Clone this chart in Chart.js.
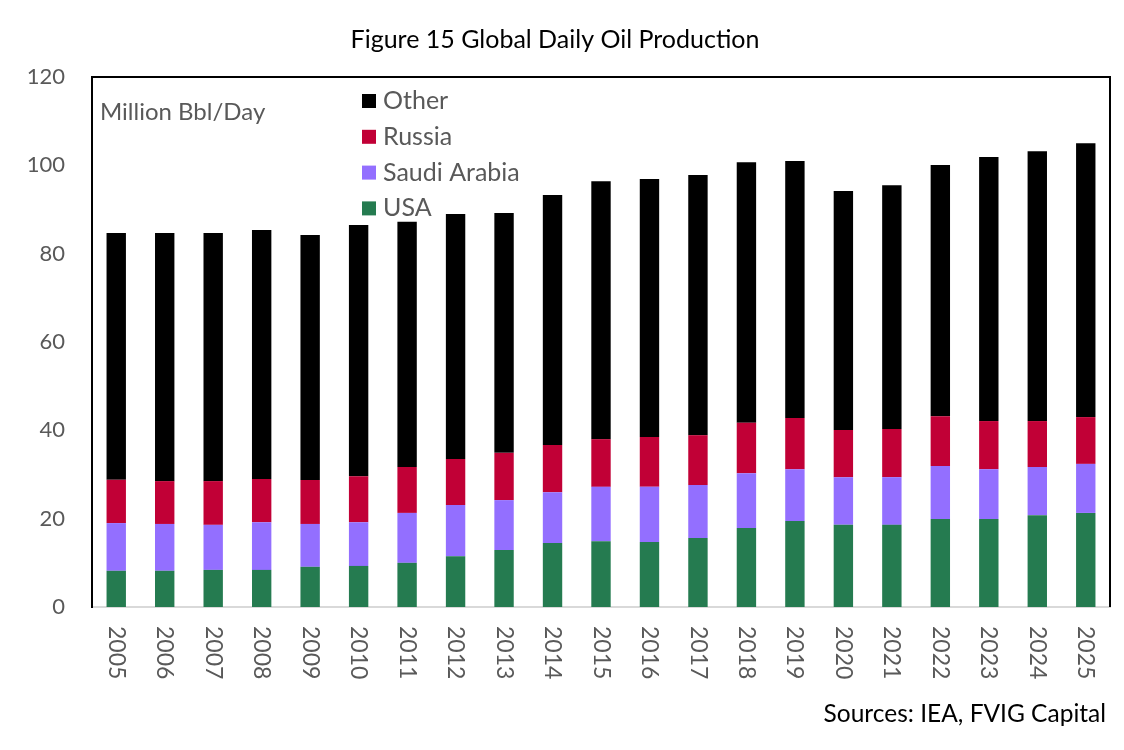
<!DOCTYPE html>
<html>
<head>
<meta charset="utf-8">
<script src="https://cdn.jsdelivr.net/npm/chart.js@4.4.1/dist/chart.umd.min.js"></script>
<style>
html, body { margin:0; padding:0; background:#fff; }
#wrap { width:1124px; height:750px; }
</style>
</head>
<body>
<div id="wrap"><canvas id="oilChart" width="1124" height="750"></canvas></div>
<script>

/* DATA (Million Bbl/Day) */
const years = ['2005','2006','2007','2008','2009','2010','2011','2012','2013','2014','2015',
'2016','2017','2018','2019','2020','2021','2022','2023','2024','2025'];

const usa = [8.2, 8.2, 8.4, 8.4, 9.1, 9.3, 10.0, 11.5, 12.9, 14.5, 14.9,
14.7, 15.6, 17.9, 19.5, 18.6, 18.6, 19.9, 19.9, 20.8, 21.3];

const saudi = [10.8, 10.6, 10.2, 10.8, 9.7, 9.9, 11.3, 11.6, 11.3, 11.5, 12.3,
12.5, 12.0, 12.4, 11.7, 10.8, 10.8, 12.0, 11.3, 10.9, 11.1];

const russia = [9.8, 9.7, 9.9, 9.8, 9.95, 10.4, 10.4, 10.4, 10.7, 10.7, 10.8,
11.3, 11.3, 11.4, 11.6, 10.7, 10.9, 11.3, 10.9, 10.4, 10.6];

const other = [55.9, 56.2, 56.2, 56.35, 55.45, 56.9, 55.5, 55.5, 54.3, 56.6, 58.4,
58.4, 58.9, 59.0, 58.2, 54.1, 55.2, 56.9, 59.8, 61.1, 62.0];

const yTicks = [0, 20, 40, 60, 80, 100, 120];

const FONT = 'Lato, "Noto Sans", sans-serif';
const GREY = '#595959';

/* frame, legend, unit label, rotated year labels, source note */
const extras = {
id:'extras',
afterDraw(chart){
const ctx = chart.ctx;
const a = chart.chartArea;
ctx.save();

// top + right frame
ctx.strokeStyle = '#000';
ctx.lineWidth = 2;
ctx.beginPath();
ctx.moveTo(a.left - 1, a.top);
ctx.lineTo(a.right, a.top);
ctx.lineTo(a.right, a.bottom);
ctx.stroke();

// unit label
ctx.fillStyle = GREY;
ctx.font = '24px ' + FONT;
ctx.textAlign = 'left';
ctx.textBaseline = 'middle';
ctx.fillText('Million Bbl/Day', a.left + 8, a.top + 35);

// legend (reverse order, like the stack)
ctx.font = '25px ' + FONT;
const ds = chart.data.datasets.slice().reverse();
ds.forEach((d, i) => {
let y = a.top + 24 + i * 35.8;
ctx.fillStyle = d.backgroundColor;
ctx.fillRect(a.left + 270, y - 7, 14, 14);
ctx.fillStyle = GREY;
ctx.fillText(d.label, a.left + 291, y);
});

// year labels, rotated clockwise
const xs = chart.scales.x;
ctx.fillStyle = GREY;
ctx.font = '23px ' + FONT;
xs.ticks.forEach((t, i) => {
let x = xs.getPixelForTick(i);
ctx.save();
ctx.translate(x, a.bottom + 19);
ctx.rotate(Math.PI / 2);
ctx.fillText(chart.data.labels[i], 0, 0);
ctx.restore();
});

// source note
ctx.fillStyle = '#000';
ctx.font = '24.5px ' + FONT;
ctx.textAlign = 'right';
ctx.fillText('Sources: IEA, FVIG Capital', a.right - 4, 714);

ctx.restore();
}
};

new Chart(document.getElementById('oilChart'), {
type:'bar',
data:{
labels: years,
datasets:[
{ label:'USA', data: usa, backgroundColor:'#257B50' },
{ label:'Saudi Arabia', data: saudi, backgroundColor:'#936FFF' },
{ label:'Russia', data: russia, backgroundColor:'#C10036' },
{ label:'Other', data: other, backgroundColor:'#000000' }
]
},
options:{
responsive:false,
animation:false,
devicePixelRatio:1,
layout:{ padding:{ left:0, right:14, top:0, bottom:59 } },
datasets:{ bar:{ barPercentage:0.4, categoryPercentage:1.0 } },
plugins:{
legend:{ display:false },
tooltip:{ enabled:false },
title:{
display:true,
text:'Figure 15 Global Daily Oil Production',
color:'#000',
font:{ family:FONT, size:25, weight:'normal' },
padding:{ top:25, bottom:22 }
}
},
scales:{
x:{
stacked:true,
grid:{ display:false, drawTicks:false },
border:{ display:true, color:'#d9d9d9', width:2 },
ticks:{ color:'rgba(0,0,0,0)', minRotation:90, maxRotation:90, font:{ family:FONT, size:23 } },
afterFit(scale){ scale.height = 84; }
},
y:{
stacked:true,
min:0,
max:120,
grid:{ display:false, drawTicks:false },
border:{ display:true, color:'#000', width:2 },
afterBuildTicks(scale){ scale.ticks = yTicks.map(v => ({ value:v })); },
ticks:{ color:GREY, padding:27, font:{ family:FONT, size:22 } },
afterFit(scale){ scale.width = 92; }
}
}
},
plugins:[extras]
});
</script>
</body>
</html>
